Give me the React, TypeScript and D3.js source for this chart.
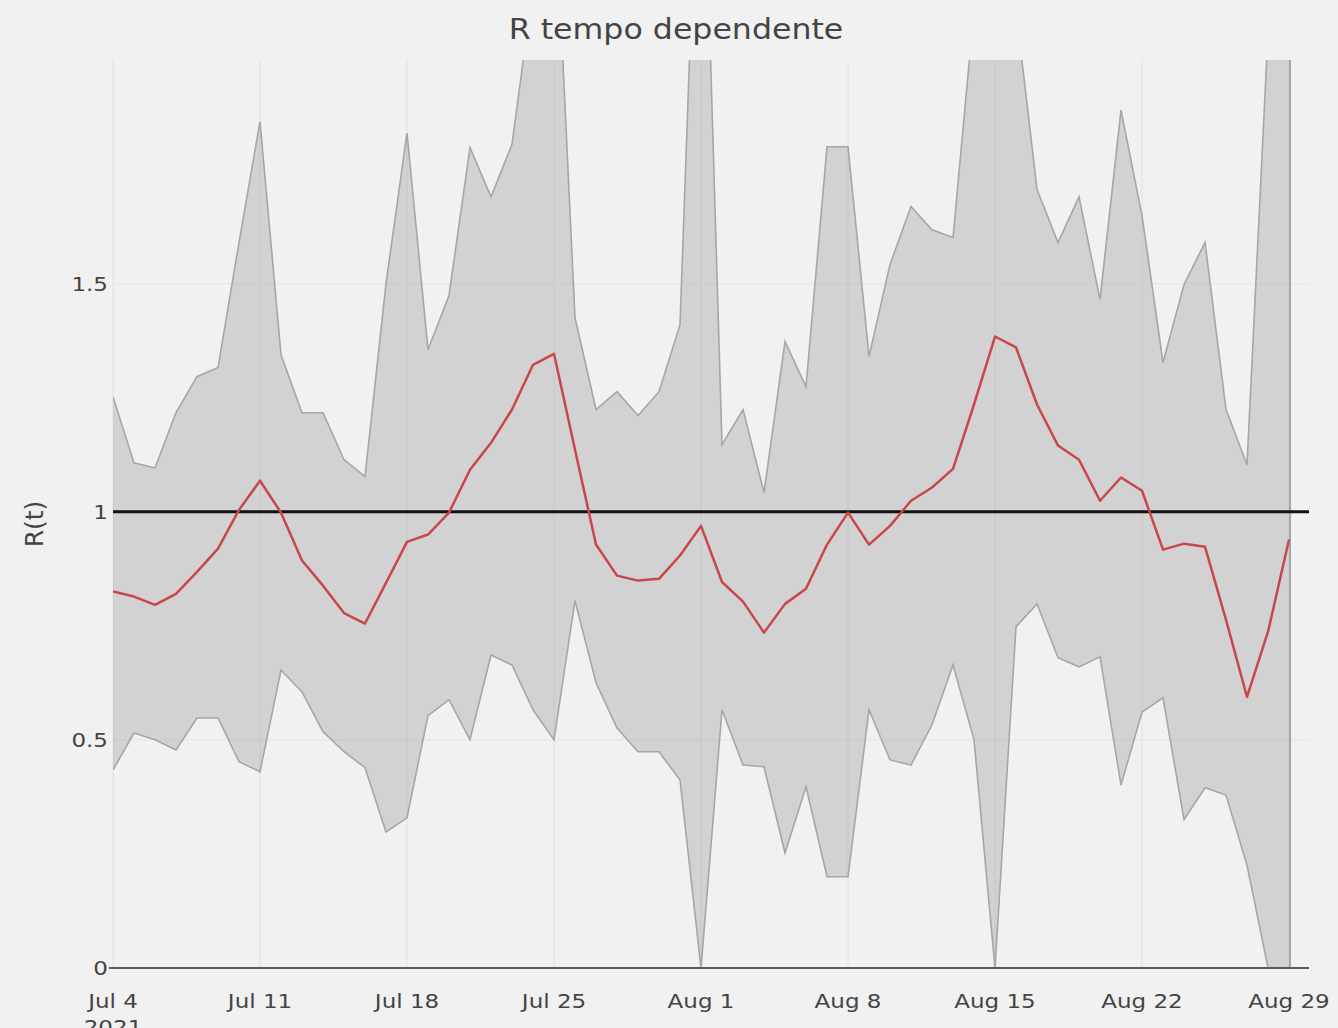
import React from 'react';
import * as d3 from 'd3';

// daily estimates, Jul 4 -> Aug 29 2021
const dates = d3.timeDay.range(new Date(2021, 6, 4), new Date(2021, 7, 30));

const rMean = [
  0.825, 0.814, 0.796, 0.82, 0.868, 0.919, 1.004, 1.068, 0.998, 0.893,
  0.838, 0.778, 0.755, 0.844, 0.934, 0.95, 0.998, 1.092, 1.151, 1.224,
  1.322, 1.346, 1.136, 0.928, 0.86, 0.849, 0.853, 0.904, 0.969, 0.846,
  0.803, 0.735, 0.798, 0.831, 0.928, 0.998, 0.928, 0.969, 1.024, 1.053,
  1.094, 1.235, 1.384, 1.36, 1.235, 1.145, 1.114, 1.024, 1.075, 1.046,
  0.917, 0.93, 0.923, 0.763, 0.594, 0.737, 0.939,
];

const rUpper = [
  1.252, 1.107, 1.096, 1.217, 1.296, 1.316, 1.59, 1.855, 1.344, 1.217,
  1.217, 1.114, 1.077, 1.5, 1.83, 1.355, 1.474, 1.798, 1.69, 1.805,
  2.15, 2.4, 1.425, 1.224, 1.263, 1.211, 1.263, 1.41, 2.7, 1.147,
  1.224, 1.042, 1.373, 1.274, 1.8, 1.8, 1.34, 1.542, 1.669, 1.618,
  1.601, 2.1, 2.6, 2.1, 1.706, 1.59, 1.69, 1.465, 1.88, 1.649,
  1.327, 1.498, 1.59, 1.224, 1.103, 2.05, 3.0,
];

const rLower = [
  0.434, 0.515, 0.5, 0.478, 0.548, 0.548, 0.452, 0.43, 0.653, 0.605,
  0.518, 0.474, 0.439, 0.298, 0.329, 0.553, 0.588, 0.5, 0.686, 0.664,
  0.566, 0.5, 0.805, 0.625, 0.526, 0.474, 0.474, 0.412, 0.0, 0.566,
  0.445, 0.441, 0.252, 0.397, 0.2, 0.2, 0.566, 0.456, 0.445, 0.533,
  0.664, 0.5, 0.0, 0.748, 0.798, 0.68, 0.66, 0.682, 0.401, 0.561,
  0.592, 0.325, 0.395, 0.379, 0.225, 0.0, 0.0,
];

const yTicks = [0, 0.5, 1, 1.5];
const yTickLabels = ['0', '0.5', '1', '1.5'];
const xTickDates = d3.timeWeek.range(new Date(2021, 6, 4), new Date(2021, 7, 30));
const threshold = 1;

const W = 1338;
const H = 1028;
const margin = { top: 60, right: 29, bottom: 60, left: 113 };
const font = 'DejaVu Sans, Verdana, sans-serif';
const stretch = 1.15; // the original is a bit wider than tall

export default function App() {
  const x = d3
    .scaleTime()
    .domain([dates[0], new Date(2021, 7, 29, 22, 50)])
    .range([margin.left, W - margin.right]);
  const y = d3.scaleLinear().domain([0, 1.99]).range([H - margin.bottom, margin.top]);

  const band = d3
    .area<number>()
    .x((_, i) => x(dates[i]))
    .y0((_, i) => y(rLower[i]))
    .y1((d) => y(d));
  const line = d3
    .line<number>()
    .x((_, i) => x(dates[i]))
    .y((d) => y(d));

  const fmt = d3.timeFormat('%b %-d');
  const x0 = margin.left;
  const x1 = W - margin.right;
  const yb = H - margin.bottom;
  const last = dates.length - 1;

  return (
    <svg
      width={W}
      height={H}
      style={{ position: 'absolute', left: 0, top: 0, background: '#f1f1f1' }}
      fontFamily={font}
    >
      <defs>
        <clipPath id="plot">
          <rect x={x0} y={margin.top} width={x1 - x0} height={yb - margin.top} />
        </clipPath>
      </defs>
      <rect width={W} height={H} fill="#f1f1f1" />

      {/* grid */}
      {xTickDates.map((d) => (
        <line key={'gx' + d} x1={x(d)} x2={x(d)} y1={margin.top} y2={yb} stroke="#e2e2e2" strokeWidth={1} />
      ))}
      {yTicks.filter((t) => t > 0).map((t) => (
        <line key={'gy' + t} x1={x0} x2={x1} y1={y(t)} y2={y(t)} stroke="#e6e6e6" strokeWidth={1} />
      ))}

      <g clipPath="url(#plot)">
        <path d={band(rUpper) || ''} fill="rgba(120,120,120,0.25)" stroke="none" />
        <path d={line(rUpper) || ''} fill="none" stroke="#a6a6a6" strokeWidth={1.6} />
        <path d={line(rLower) || ''} fill="none" stroke="#a6a6a6" strokeWidth={1.6} />
        {/* closing edge of the band on the last day */}
        <line
          x1={x(dates[last]) + 1}
          x2={x(dates[last]) + 1}
          y1={y(rLower[last])}
          y2={y(rUpper[last])}
          stroke="#a6a6a6"
          strokeWidth={2}
        />
      </g>

      {/* R = 1 */}
      <line x1={x0} x2={x1} y1={y(threshold)} y2={y(threshold)} stroke="#111" strokeWidth={3} />

      <g clipPath="url(#plot)">
        <path d={line(rMean) || ''} fill="none" stroke="#c9464b" strokeWidth={2.5} strokeLinejoin="round" />
      </g>

      {/* x axis */}
      <line x1={x0 - 4} x2={x1} y1={yb} y2={yb} stroke="#5a5a5a" strokeWidth={1.8} />
      {xTickDates.map((d, i) => (
        <g key={'xt' + d}>
          <text
            transform={`translate(${x(d)},${yb + 40}) scale(${stretch},1)`}
            textAnchor="middle"
            fontSize={20}
            fill="#444"
          >
            {fmt(d)}
          </text>
          {i === 0 && (
            <text
              transform={`translate(${x(d)},${yb + 66}) scale(${stretch},1)`}
              textAnchor="middle"
              fontSize={20}
              fill="#444"
            >
              2021
            </text>
          )}
        </g>
      ))}

      {/* y axis labels */}
      {yTicks.map((t, i) => (
        <text
          key={'yt' + t}
          transform={`translate(${x0 - 5},${y(t) + 7}) scale(${stretch},1)`}
          textAnchor="end"
          fontSize={20}
          fill="#444"
        >
          {yTickLabels[i]}
        </text>
      ))}
      <text
        transform={`translate(43,${(margin.top + yb) / 2 + 10}) rotate(-90)`}
        textAnchor="middle"
        fontSize={25}
        fill="#444"
      >
        R(t)
      </text>

      <text
        transform={`translate(${W / 2 + 7},39) scale(${stretch},1)`}
        textAnchor="middle"
        fontSize={27.5}
        fill="#444"
      >
        R tempo dependente
      </text>
    </svg>
  );
}
